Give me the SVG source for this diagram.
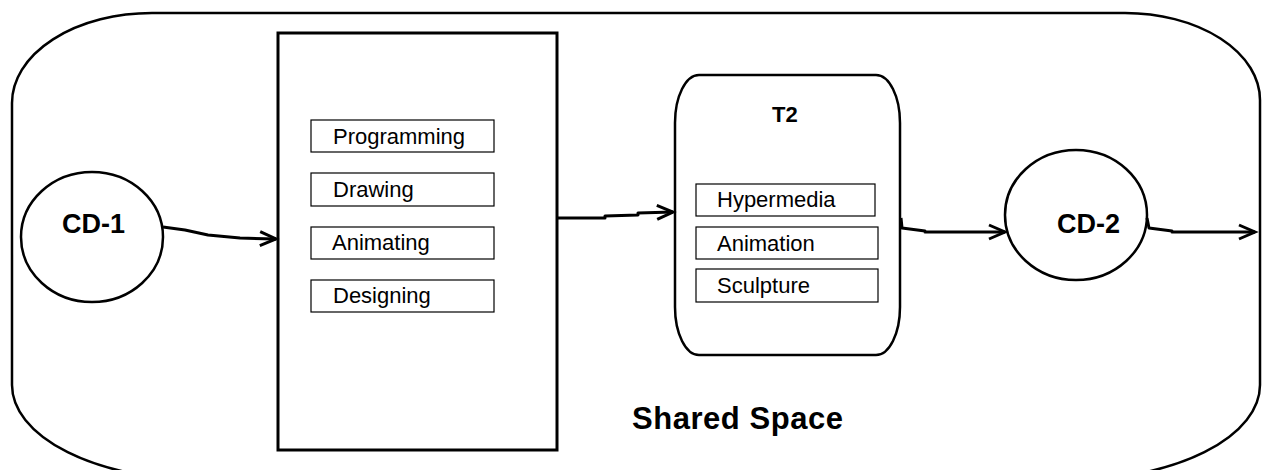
<svg xmlns="http://www.w3.org/2000/svg" width="1262" height="470" viewBox="0 0 1262 470">
<defs>
<style>
.thick{fill:none;stroke:#000;stroke-width:3}
.med{fill:none;stroke:#000;stroke-width:2.5}
.item{fill:#fff;stroke:#000;stroke-width:1.2}
.lbl{font-family:"Liberation Sans",Arial,sans-serif;font-size:22px;fill:#000}
.bold{font-family:"Liberation Sans",Arial,sans-serif;font-weight:bold;fill:#000}
.conn{fill:none;stroke:#000;stroke-width:3;stroke-linejoin:round}
</style>
<marker id="arr" markerUnits="userSpaceOnUse" markerWidth="20" markerHeight="20" viewBox="-18 -9 20 18" refX="0" refY="0" orient="auto" overflow="visible">
<path d="M-16,-7 L0,0 L-16,7" fill="none" stroke="#000" stroke-width="3"/>
</marker>
</defs>
<rect width="1262" height="470" fill="#fff"/>
<g id="shared-space">
<path class="med" d="M152,13 L1125,13 A135,87 0 0 1 1260,100 L1260,385 A190,95 0 0 1 1070,480 L202,480 A190,95 0 0 1 12,385 L12,103 A140,90 0 0 1 152,13 Z"/>
<text class="bold" x="632" y="429" font-size="31" textLength="211">Shared Space</text>
</g>
<g id="cd1">
<ellipse class="med" cx="92" cy="237" rx="71" ry="65"/>
<text class="bold" x="62" y="233" font-size="27">CD-1</text>
</g>
<g id="t1">
<rect class="thick" x="278" y="33" width="279" height="417"/>
<rect class="item" x="311" y="120" width="183" height="32"/>
<text class="lbl" x="333" y="144">Programming</text>
<rect class="item" x="311" y="173" width="183" height="33"/>
<text class="lbl" x="333" y="197">Drawing</text>
<rect class="item" x="311" y="227" width="183" height="32"/>
<text class="lbl" x="332" y="250">Animating</text>
<rect class="item" x="311" y="280" width="183" height="32"/>
<text class="lbl" x="333" y="303">Designing</text>
</g>
<g id="t2">
<rect class="med" x="675" y="75" width="225" height="280" rx="24" ry="48"/>
<text class="bold" x="772" y="122" font-size="22">T2</text>
<rect class="item" x="696" y="184" width="179" height="32"/>
<text class="lbl" x="717" y="207">Hypermedia</text>
<rect class="item" x="696" y="227" width="182" height="32"/>
<text class="lbl" x="717" y="251">Animation</text>
<rect class="item" x="696" y="269" width="182" height="33"/>
<text class="lbl" x="717" y="293">Sculpture</text>
</g>
<g id="cd2">
<ellipse class="med" cx="1076" cy="215" rx="71" ry="65"/>
<text class="bold" x="1057" y="233" font-size="27">CD-2</text>
</g>
<g id="connectors">
<polyline class="conn" points="163,227 185,230 208,235 240,238 276,239" marker-end="url(#arr)"/>
<polyline class="conn" points="557,218 605,218 605,216 638,215 638,213 673,212" marker-end="url(#arr)"/>
<polyline class="conn" points="901,218 902,228 925,231 925,232 1005,232" marker-end="url(#arr)"/>
<polyline class="conn" points="1147,218 1149,228 1172,231 1172,232 1255,232" marker-end="url(#arr)"/>
</g>
</svg>
